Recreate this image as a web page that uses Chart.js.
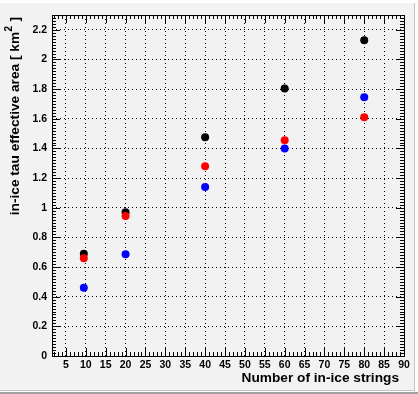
<!DOCTYPE html>
<html>
<head>
<meta charset="utf-8">
<script src="https://cdn.jsdelivr.net/npm/chart.js@4"></script>
<style>
  html, body { margin: 0; padding: 0; background: #f2f2f2; }
  canvas { display: block; }
</style>
</head>
<body>
<canvas id="effArea" width="418" height="394"></canvas>
<script>
// number of in-ice strings (x) and effective area in km^2 (y)
const strings = [9.5, 20, 40, 60, 80];
const areaBlack = [0.69, 0.97, 1.475, 1.805, 2.13];
const areaRed = [0.66, 0.945, 1.28, 1.455, 1.61];
const areaBlue = [0.46, 0.687, 1.14, 1.40, 1.745];

const xTicks = [5, 10, 15, 20, 25, 30, 35, 40, 45, 50, 55, 60, 65, 70, 75, 80, 85, 90];
const yTicks = [0, 0.2, 0.4, 0.6, 0.8, 1, 1.2, 1.4, 1.6, 1.8, 2, 2.2];
const yTickLabels = ['0', '0.2', '0.4', '0.6', '0.8', '1', '1.2', '1.4', '1.6', '1.8', '2', '2.2'];

const xTitle = 'Number of in-ice strings';
const yTitle = ['in-ice tau effective area [ km', '2', ' ]'];

const toPoints = vals => vals.map((v, i) => ({ x: strings[i], y: v }));

const titleFont = 'bold 13.7px "Liberation Sans"';
const supFont = 'bold 10px "Liberation Sans"';

// ROOT-like canvas: grey pad, bevel edges, frame with ticks on all four sides
const rootFrame = {
    id: 'rootFrame',
    beforeDraw(chart) {
        const ctx = chart.ctx;
        const w = chart.width, h = chart.height;
        ctx.save();
        ctx.fillStyle = '#f2f2f2';
        ctx.fillRect(0, 0, w, h);
        ctx.fillStyle = '#ffffff';
        ctx.fillRect(0, 0, w, 3);
        ctx.fillRect(w - 3, 0, 3, h);
        ctx.fillRect(0, h - 3, w, 1);
        ctx.fillStyle = '#c4c4c4';
        ctx.fillRect(w - 4, 3, 1, h - 7);
        ctx.fillRect(0, h - 4, w - 3, 1);
        ctx.fillStyle = '#a0a0a0';
        ctx.fillRect(0, h - 2, w, 2);
        ctx.restore();
    },
    afterDraw(chart) {
        const { ctx, chartArea: a, scales: { x, y } } = chart;
        ctx.save();
        ctx.strokeStyle = '#000';
        ctx.lineWidth = 1;
        ctx.beginPath();
        for (let v = 2; v <= 90; v++) {
            const px = Math.round(x.getPixelForValue(v)) + 0.5;
            const len = v % 5 === 0 ? 8 : 4;
            ctx.moveTo(px, a.bottom);
            ctx.lineTo(px, a.bottom - len);
            ctx.moveTo(px, a.top);
            ctx.lineTo(px, a.top + len);
        }
        for (let i = 0; i <= 114; i++) {
            const py = Math.round(y.getPixelForValue(i * 0.02)) + 0.5;
            const len = i % 10 === 0 ? 8 : 4;
            ctx.moveTo(a.left, py);
            ctx.lineTo(a.left + len, py);
            ctx.moveTo(a.right, py);
            ctx.lineTo(a.right - len, py);
        }
        ctx.stroke();
        ctx.strokeRect(Math.round(a.left) + 0.5, Math.round(a.top) + 0.5,
            Math.round(a.right - a.left), Math.round(a.bottom - a.top));

        // axis titles, right aligned like ROOT
        ctx.fillStyle = '#000';
        ctx.font = titleFont;
        ctx.textAlign = 'right';
        ctx.textBaseline = 'middle';
        ctx.fillText(xTitle, 399, 378);

        ctx.translate(15, 17);
        ctx.rotate(-Math.PI / 2);
        ctx.textAlign = 'left';
        ctx.font = titleFont;
        const w0 = ctx.measureText(yTitle[0]).width;
        const w2 = ctx.measureText(yTitle[2]).width;
        ctx.font = supFont;
        const w1 = ctx.measureText(yTitle[1]).width;
        let pos = -(w0 + w1 + w2 + 1);
        ctx.font = titleFont;
        ctx.fillText(yTitle[0], pos, 0);
        pos += w0 + 0.5;
        ctx.font = supFont;
        ctx.fillText(yTitle[1], pos, -6);
        pos += w1 + 0.5;
        ctx.font = titleFont;
        ctx.fillText(yTitle[2], pos, 0);
        ctx.restore();
    }
};

const tickFont = { family: 'Liberation Sans', size: 10.5, weight: 'bold' };

new Chart(document.getElementById('effArea'), {
    type: 'scatter',
    data: {
        datasets: [
            { label: 'blue', data: toPoints(areaBlue), backgroundColor: '#0000ff', borderColor: '#0000ff' },
            { label: 'red', data: toPoints(areaRed), backgroundColor: '#ff0000', borderColor: '#ff0000' },
            { label: 'black', data: toPoints(areaBlack), backgroundColor: '#000000', borderColor: '#000000' }
        ]
    },
    options: {
        responsive: false,
        animation: false,
        layout: { padding: { top: 15, right: 14, left: 0, bottom: 0 } },
        elements: { point: { radius: 4, borderWidth: 0, hoverRadius: 4 } },
        plugins: {
            legend: { display: false },
            tooltip: { enabled: false }
        },
        scales: {
            x: {
                type: 'linear',
                min: 1.5,
                max: 90,
                afterBuildTicks: s => { s.ticks = xTicks.map(v => ({ value: v })); },
                afterFit: s => { s.height = 38; },
                grid: { color: '#000', lineWidth: 1, drawTicks: false },
                border: { display: false, dash: [1, 3] },
                ticks: { color: '#000', font: tickFont, padding: 3, maxRotation: 0, autoSkip: false }
            },
            y: {
                type: 'linear',
                min: 0,
                max: 2.3,
                afterBuildTicks: s => { s.ticks = yTicks.map(v => ({ value: v })); },
                afterFit: s => { s.width = 52; },
                grid: { color: '#000', lineWidth: 1, drawTicks: false },
                border: { display: false, dash: [1, 3] },
                ticks: {
                    color: '#000',
                    font: tickFont,
                    padding: 5,
                    autoSkip: false,
                    callback: (v, i) => yTickLabels[i]
                }
            }
        }
    },
    plugins: [rootFrame]
});
</script>
</body>
</html>
